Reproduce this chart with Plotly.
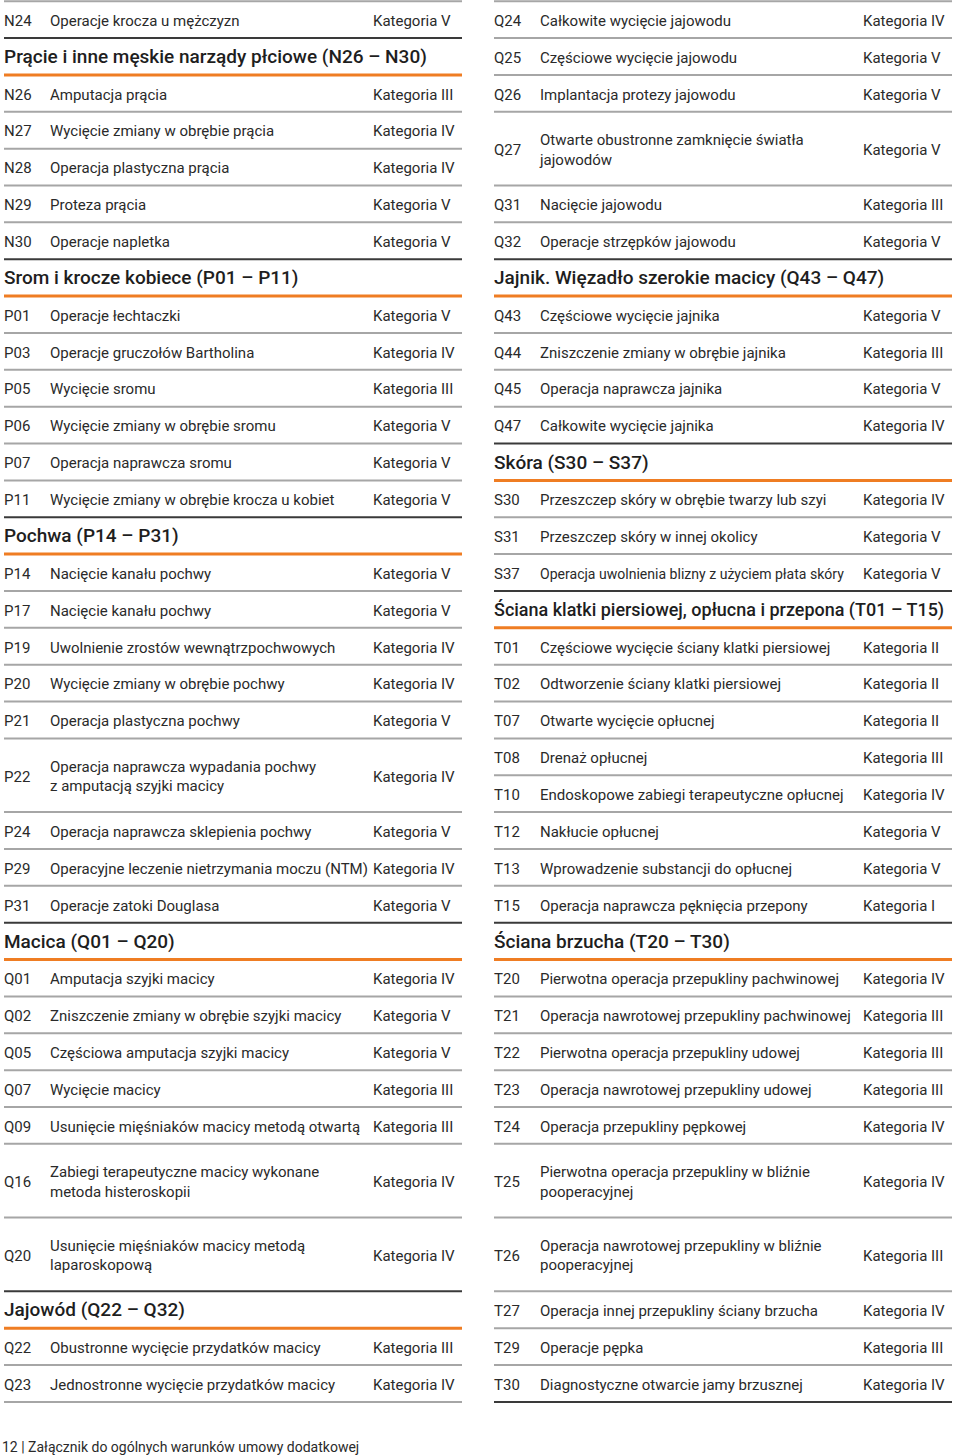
import plotly.graph_objects as go

# ---------------- data ----------------
left_codes = ["N24", "", "N26", "N27", "N28", "N29", "N30", "", "P01", "P03", "P05", "P06", "P07", "P11",
              "", "P14", "P17", "P19", "P20", "P21", "P22", "P24", "P29", "P31",
              "", "Q01", "Q02", "Q05", "Q07", "Q09", "Q16", "Q20", "", "Q22", "Q23"]
left_texts = [
    "Operacje krocza u mężczyzn",
    "Prącie i inne męskie narządy płciowe (N26 – N30)",
    "Amputacja prącia",
    "Wycięcie zmiany w obrębie prącia",
    "Operacja plastyczna prącia",
    "Proteza prącia",
    "Operacje napletka",
    "Srom i krocze kobiece (P01 – P11)",
    "Operacje łechtaczki",
    "Operacje gruczołów Bartholina",
    "Wycięcie sromu",
    "Wycięcie zmiany w obrębie sromu",
    "Operacja naprawcza sromu",
    "Wycięcie zmiany w obrębie krocza u kobiet",
    "Pochwa (P14 – P31)",
    "Nacięcie kanału pochwy",
    "Nacięcie kanału pochwy",
    "Uwolnienie zrostów wewnątrzpochwowych",
    "Wycięcie zmiany w obrębie pochwy",
    "Operacja plastyczna pochwy",
    "Operacja naprawcza wypadania pochwy<br>z amputacją szyjki macicy",
    "Operacja naprawcza sklepienia pochwy",
    "Operacyjne leczenie nietrzymania moczu (NTM)",
    "Operacje zatoki Douglasa",
    "Macica (Q01 – Q20)",
    "Amputacja szyjki macicy",
    "Zniszczenie zmiany w obrębie szyjki macicy",
    "Częściowa amputacja szyjki macicy",
    "Wycięcie macicy",
    "Usunięcie mięśniaków macicy metodą otwartą",
    "Zabiegi terapeutyczne macicy wykonane<br>metoda histeroskopii",
    "Usunięcie mięśniaków macicy metodą<br>laparoskopową",
    "Jajowód (Q22 – Q32)",
    "Obustronne wycięcie przydatków macicy",
    "Jednostronne wycięcie przydatków macicy",
]
left_cats = ["V", "", "III", "IV", "IV", "V", "V", "", "V", "IV", "III", "V", "V", "V",
             "", "V", "V", "IV", "IV", "V", "IV", "V", "IV", "V",
             "", "IV", "V", "V", "III", "III", "IV", "IV", "", "III", "IV"]

right_codes = ["Q24", "Q25", "Q26", "Q27", "Q31", "Q32", "", "Q43", "Q44", "Q45", "Q47", "",
               "S30", "S31", "S37", "", "T01", "T02", "T07", "T08", "T10", "T12", "T13", "T15",
               "", "T20", "T21", "T22", "T23", "T24", "T25", "T26", "T27", "T29", "T30"]
right_texts = [
    "Całkowite wycięcie jajowodu",
    "Częściowe wycięcie jajowodu",
    "Implantacja protezy jajowodu",
    "Otwarte obustronne zamknięcie światła<br>jajowodów",
    "Nacięcie jajowodu",
    "Operacje strzępków jajowodu",
    "Jajnik. Więzadło szerokie macicy (Q43 – Q47)",
    "Częściowe wycięcie jajnika",
    "Zniszczenie zmiany w obrębie jajnika",
    "Operacja naprawcza jajnika",
    "Całkowite wycięcie jajnika",
    "Skóra (S30 – S37)",
    "Przeszczep skóry w obrębie twarzy lub szyi",
    "Przeszczep skóry w innej okolicy",
    "Operacja uwolnienia blizny z użyciem płata skóry",
    "Ściana klatki piersiowej, opłucna i przepona (T01 – T15)",
    "Częściowe wycięcie ściany klatki piersiowej",
    "Odtworzenie ściany klatki piersiowej",
    "Otwarte wycięcie opłucnej",
    "Drenaż opłucnej",
    "Endoskopowe zabiegi terapeutyczne opłucnej",
    "Nakłucie opłucnej",
    "Wprowadzenie substancji do opłucnej",
    "Operacja naprawcza pęknięcia przepony",
    "Ściana brzucha (T20 – T30)",
    "Pierwotna operacja przepukliny pachwinowej",
    "Operacja nawrotowej przepukliny pachwinowej",
    "Pierwotna operacja przepukliny udowej",
    "Operacja nawrotowej przepukliny udowej",
    "Operacja przepukliny pępkowej",
    "Pierwotna operacja przepukliny w bliźnie<br>pooperacyjnej",
    "Operacja nawrotowej przepukliny w bliźnie<br>pooperacyjnej",
    "Operacja innej przepukliny ściany brzucha",
    "Operacje pępka",
    "Diagnostyczne otwarcie jamy brzusznej",
]
right_cats = ["IV", "V", "V", "V", "III", "V", "", "V", "III", "V", "IV", "",
              "IV", "V", "V", "", "II", "II", "II", "III", "IV", "V", "V", "I",
              "", "IV", "III", "III", "III", "IV", "IV", "III", "IV", "III", "IV"]

footer_text = "12 | Załącznik do ogólnych warunków umowy dodatkowej"

# ---------------- style ----------------
FONT = "Roboto"
TEXT_C = "#2a2a2a"
HEAD_C = "#1e1e1e"
GRAY = "#a6a6a6"
DARK = "#3a3a3a"
ORANGE = "#ef7d23"
UNIT = 36.86
TOP = 1.2
BODY_SIZE = 15
HEAD_SIZE = 19

fig = go.Figure()


def fit_size(text, base, max_chars):
    longest = max(len(part) for part in text.split("<br>"))
    return base if longest <= max_chars else base * max_chars / longest


def add_column(codes, texts, cats, x0, x1, last_dark):
    cx, tx, kx = x0, x0 + 46, x0 + 369
    y = TOP
    row_y, row_code, row_text, row_cat = [], [], [], []
    head_y, head_text = [], []
    lines = {GRAY: ([], []), DARK: ([], []), ORANGE: ([], [])}
    lines[GRAY][0].extend([x0, x1, None]); lines[GRAY][1].extend([TOP, TOP, None])
    n = len(codes)
    for i in range(n):
        h = 2 if "<br>" in texts[i] else 1
        yc = y + h * UNIT / 2
        yb = y + h * UNIT
        if codes[i] == "":
            head_y.append(yc + 2.0); head_text.append(texts[i])
            col = ORANGE
        else:
            row_y.append(yc + 2.5); row_code.append(codes[i]); row_text.append(texts[i])
            row_cat.append("Kategoria " + cats[i])
            if i + 1 < n and codes[i + 1] == "":
                col = DARK
            elif i + 1 == n and last_dark:
                col = DARK
            else:
                col = GRAY
        lines[col][0].extend([x0, x1, None]); lines[col][1].extend([yb, yb, None])
        y = yb
    for col, (lx, ly) in lines.items():
        fig.add_trace(go.Scatter(x=lx, y=ly, mode="lines",
                                 line=dict(color=col, width=3 if col == ORANGE else 2),
                                 hoverinfo="skip", showlegend=False))
    for xs, vals, maxc in ((cx, row_code, 99), (tx, row_text, 45), (kx, row_cat, 99)):
        sizes = [fit_size(v, BODY_SIZE, maxc) for v in vals]
        fig.add_trace(go.Scatter(x=[xs] * len(row_y), y=row_y, mode="text", text=vals,
                                 textposition="middle right", cliponaxis=False,
                                 textfont=dict(family=FONT, size=sizes, color=TEXT_C),
                                 hoverinfo="skip", showlegend=False))
    hsizes = [fit_size(v, HEAD_SIZE, 53) for v in head_text]
    fig.add_trace(go.Scatter(x=[x0] * len(head_y), y=head_y, mode="text",
                             text=head_text, textposition="middle right", cliponaxis=False,
                             textfont=dict(family=FONT, size=hsizes, color=HEAD_C, weight=500),
                             hoverinfo="skip", showlegend=False))


add_column(left_codes, left_texts, left_cats, 4, 462, False)
add_column(right_codes, right_texts, right_cats, 494, 952, True)

fig.add_trace(go.Scatter(x=[2], y=[1448], mode="text", text=[footer_text], textposition="middle right",
                         textfont=dict(family=FONT, size=14, color=TEXT_C), cliponaxis=False,
                         hoverinfo="skip", showlegend=False))

fig.update_layout(
    width=960, height=1455,
    margin=dict(l=0, r=0, t=0, b=0),
    paper_bgcolor="white", plot_bgcolor="white",
    xaxis=dict(range=[0, 960], visible=False, fixedrange=True),
    yaxis=dict(range=[1455, 0], visible=False, fixedrange=True),
    showlegend=False,
)

# remove the browser's default 8px body margin so the page matches the figure exactly
fig.write_html("out.html", config={"displayModeBar": False},
               post_script="document.body.style.margin='0px';")
